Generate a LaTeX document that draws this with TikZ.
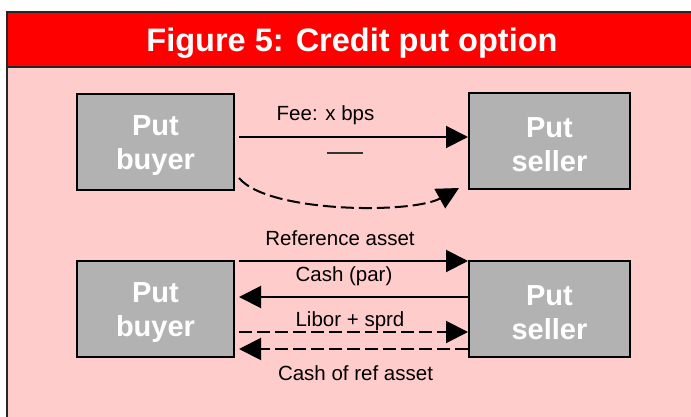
\documentclass[tikz,border=0pt]{standalone}
\usepackage{fontspec}
\setmainfont{Liberation Sans}
\usetikzlibrary{arrows.meta}

\definecolor{barred}{HTML}{FF0000}
\definecolor{panelpink}{HTML}{FFCCCC}
\definecolor{boxgray}{HTML}{B2B2B2}

\tikzset{
  party/.style={draw=black, line width=2pt, fill=boxgray,
    inner sep=0pt, minimum height=96pt},
  partytext/.style={text=white, align=center, inner sep=0pt, yshift=-4pt,
    font=\fontsize{29}{34}\selectfont\bfseries},
  flow/.style={line width=2pt, -{Triangle[length=22pt,width=22pt]}},
  dashflow/.style={flow, dash pattern=on 13pt off 5pt},
  flowlabel/.style={anchor=base, inner sep=0pt, font=\fontsize{20.5}{24}\selectfont}
}

\begin{document}
\begin{tikzpicture}[x=1pt,y=-1pt]
  \useasboundingbox (0,0) rectangle (691,417);
  \clip (0,0) rectangle (691,417);
  \fill[white] (0,0) rectangle (691,417);

  % framed panel with title bar
  \fill[panelpink] (6.5,12.5) rectangle (720,440);
  \fill[barred] (6.5,12.5) rectangle (720,66.7);
  \draw[line width=2pt, black!85] (720,12.5) -- (6.5,12.5) -- (6.5,440);
  \draw[line width=2pt, black!85] (6.5,66.7) -- (720,66.7);
  \node[anchor=base, text=white, inner sep=0pt,
        font=\fontsize{32.5}{38}\selectfont\bfseries] (title) at (352,52)
        {Figure 5: Credit put option};

  % parties
  \node[party, minimum width=157pt, label={[partytext]center:{Put\\buyer}}] (b1) at (155.5,142) {};
  \node[party, minimum width=161pt, label={[partytext]center:{Put\\seller}}] (s1) at (549.5,141) {};
  \node[party, minimum width=157pt, label={[partytext]center:{Put\\buyer}}] (b2) at (155.5,309) {};
  \node[party, minimum width=161pt, label={[partytext]center:{Put\\seller}}] (s2) at (549.5,309) {};

  % upper pair: premium and contingent payment
  \draw[flow] ([xshift=4pt,yshift=5pt]b1.east) -- ([yshift=4pt]s1.west);
  \node[flowlabel] (fee) at (325.5,121) {Fee: x bps};
  \coordinate (m1) at (327,153);
  \coordinate (m2) at (363,153);
  \draw[line width=1.2pt, black!80] (m1) -- (m2);
  \draw[dashflow] ([xshift=4pt,yshift=-36pt]b1.east)
     .. controls (268,213) and (412,214) .. ([xshift=-9pt,yshift=2pt]s1.south west);

  % lower pair: physical settlement flows
  \draw[flow] ([xshift=4pt,yshift=48pt]b2.east) -- ([yshift=48pt]s2.west);
  \node[flowlabel] (ref) at (340,245) {Reference asset};
  \draw[flow] ([yshift=12pt]s2.west) -- ([xshift=4pt,yshift=12pt]b2.east);
  \node[flowlabel] (par) at (344,281) {Cash (par)};
  \draw[dashflow] ([xshift=4pt,yshift=-23pt]b2.east) -- ([yshift=-23pt]s2.west);
  \node[flowlabel] (libor) at (350,326.5) {Libor + sprd};
  \draw[dashflow] ([yshift=-40pt]s2.west) -- ([xshift=4pt,yshift=-40pt]b2.east);
  \node[flowlabel] (cashref) at (355.5,380) {Cash of ref asset};
\end{tikzpicture}
\end{document}
